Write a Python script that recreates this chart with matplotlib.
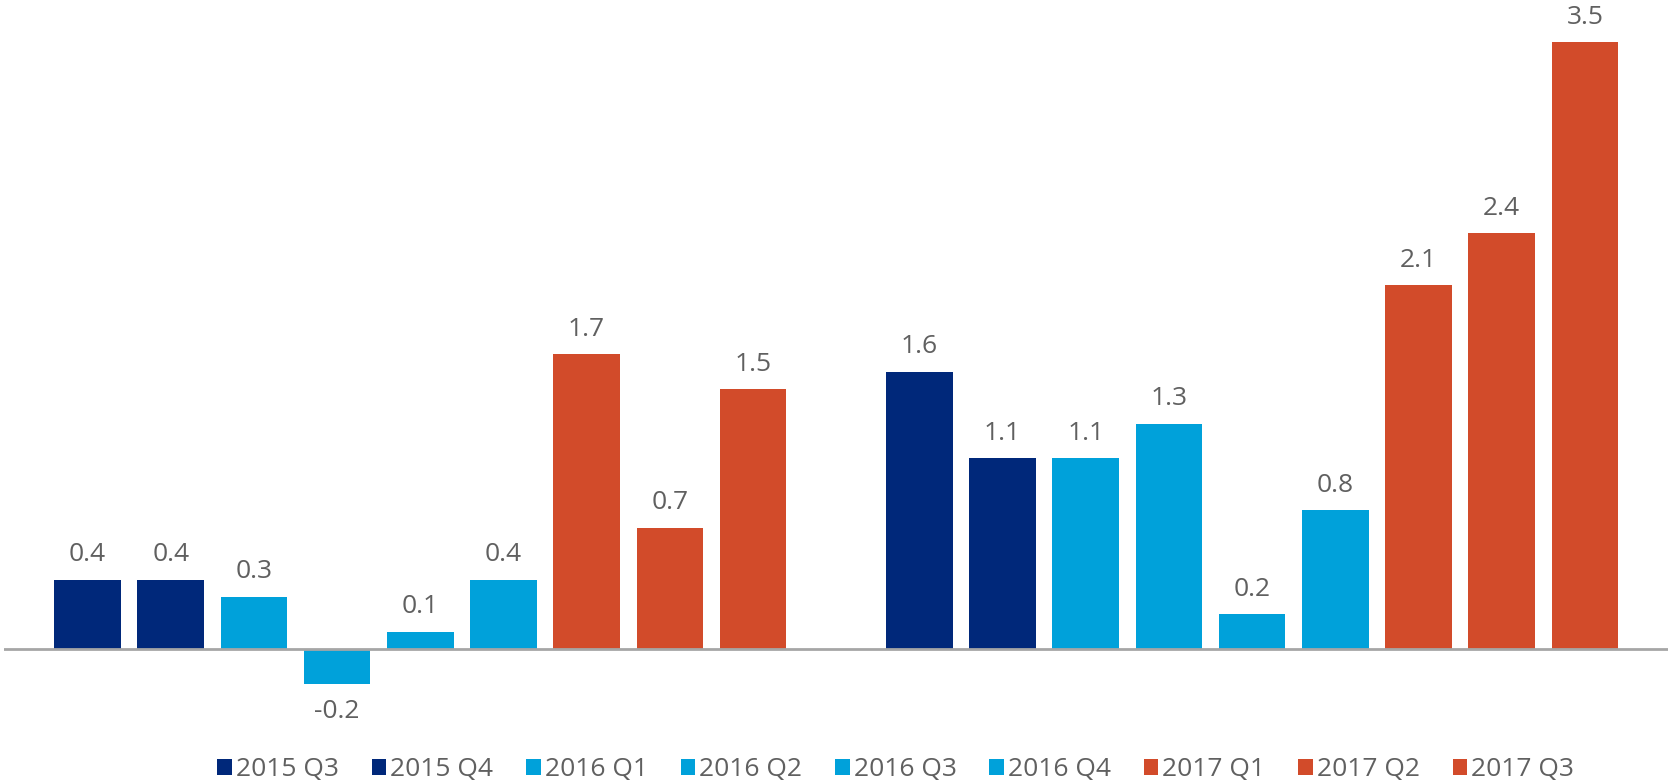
import matplotlib
matplotlib.use("Agg")
import matplotlib.pyplot as plt
from matplotlib.patches import Patch

quarters = ["2015 Q3", "2015 Q4", "2016 Q1", "2016 Q2", "2016 Q3", "2016 Q4",
            "2017 Q1", "2017 Q2", "2017 Q3"]
group1 = [0.4, 0.4, 0.3, -0.2, 0.1, 0.4, 1.7, 0.7, 1.5]
group2 = [1.6, 1.1, 1.1, 1.3, 0.2, 0.8, 2.1, 2.4, 3.5]
navy, blue, red = "#00287A", "#00A1DA", "#D24B2A"
colors = [navy, navy, blue, blue, blue, blue, red, red, red]

plt.rcParams['font.family'] = ['Open Sans', 'DejaVu Sans']
fig = plt.figure(figsize=(16.68, 7.84), dpi=100)
ax = fig.add_axes([0.0026, 0.08, 0.9974, 0.92])

label_color = "#606060"
for g, vals in enumerate([group1, group2]):
    for i, v in enumerate(vals):
        x = g * 10 + i
        ax.bar(x, v, width=0.8, color=colors[i], zorder=2)
        if v >= 0:
            ax.annotate(f"{v:.1f}", (x, v), xytext=(0, 9), textcoords="offset points",
                        ha="center", va="bottom", fontsize=19, color=label_color)
        else:
            ax.annotate(f"{v:.1f}", (x, v), xytext=(0, -11), textcoords="offset points",
                        ha="center", va="top", fontsize=19, color=label_color)

ax.axhline(0, color="#A6A6A6", linewidth=2, zorder=3)
ax.set_xlim(-1, 19)
ax.set_ylim(-0.4176, 3.745)
ax.axis("off")

handles = [Patch(facecolor=c) for c in colors]
fig.legend(handles, quarters, loc="center", bbox_to_anchor=(0.537, 0.018), ncol=9,
           frameon=False, fontsize=19, labelcolor=label_color,
           handlelength=0.55, handleheight=0.55, handletextpad=0.15, columnspacing=1.25,
           borderpad=0, borderaxespad=0)

fig.savefig("out.png", dpi=100)
